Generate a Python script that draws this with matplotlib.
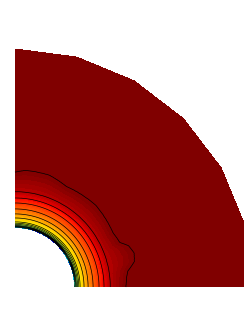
#!/bin/python
#
# Quarter-annulus field plot: filled contours (jet) with black contour lines
#

import numpy as np
import matplotlib
matplotlib.use('Agg')
import matplotlib.pyplot as plt

# Geometry of the domain (outer radius = 1)
r_inner = 0.25
n_sides = 6            # outer boundary is a polygon, one side every 15 deg

# Radial profile (left edge), radius -> field level
ring_radius = [0.250, 0.258, 0.273, 0.290, 0.307, 0.328, 0.353, 0.374, 0.400, 0.483, 0.500]
ring_level  = [0.25, 0.50, 0.65, 0.70, 0.75, 0.80, 0.85, 0.90, 0.95, 1.00, 1.05]

# Where the outermost contour line sits, by angle (deg -> radius)
outer_deg = [0, 5, 8, 12, 16, 20, 23, 29, 45, 63, 73, 85, 90]
outer_rad = [0.466, 0.471, 0.479, 0.513, 0.521, 0.508, 0.479, 0.471, 0.483, 0.475, 0.492, 0.492, 0.483]

# Value on the inner wall, by angle (the blue/black speckle)
edge_deg = [0, 10, 20, 30, 40, 50, 60, 70, 80, 90]
edge_val = [0.40, 0.30, 0.15, 0.35, 0.10, 0.05, 0.20, 0.10, 0.30, 0.25]

# Building the mesh: fine in angle, radial lines from inner circle to polygon
theta = np.radians(np.linspace(0, 90, 721))
s = np.linspace(0, 1, 400)
step = np.radians(90.0 / n_sides)
seg = np.minimum(np.floor(theta / step), n_sides - 1)
r_outer = np.cos(step / 2) / np.cos(theta - (seg + 0.5) * step)

T, S = np.meshgrid(theta, s)
R = r_inner + S * (r_outer[None, :] - r_inner)
X = R * np.cos(T)
Y = R * np.sin(T)

# Field values at the nodes
V = np.zeros_like(R)
for j, th in enumerate(np.degrees(theta)):
    radii = list(ring_radius)
    levs = list(ring_level)
    r_top = np.interp(th, outer_deg, outer_rad)
    radii[-2] = r_top
    radii[-1] = r_top + 0.015
    levs[0] = np.interp(th, edge_deg, edge_val)
    V[:, j] = np.interp(R[:, j], radii, levs)

# Setting up the figure and axes (whole figure, no frame)
fig = plt.figure(figsize=(2.44, 3.24), dpi=100)
ax = fig.add_axes([0, 0, 1, 1])
scale = 238.0
ax.set_xlim(-15 / scale, 229 / scale)
ax.set_ylim(-37 / scale, 287 / scale)
ax.set_aspect('equal')
ax.axis('off')

fill_levels = np.linspace(0, 1, 101)
ax.contourf(X, Y, V, levels=fill_levels, cmap='jet', extend='both')
ax.contour(X, Y, V, levels=np.arange(0.05, 1.001, 0.05), colors='k', linewidths=0.5)

plt.savefig('out.png', dpi=100)
